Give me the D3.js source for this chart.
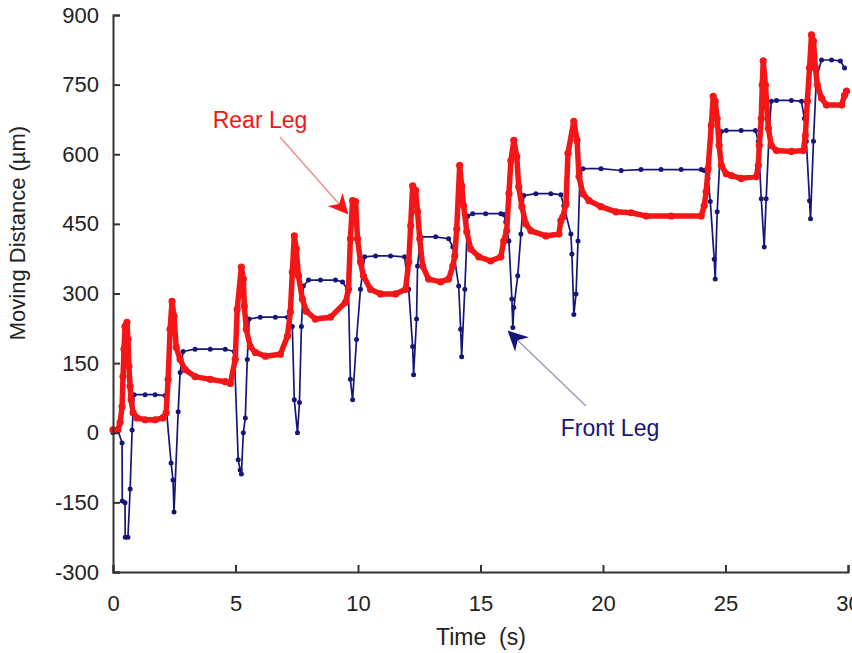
<!DOCTYPE html>
<html>
<head>
<meta charset="utf-8">
<script src="https://cdn.jsdelivr.net/npm/d3@7"></script>
<style>
  body { margin: 0; background: #fff; }
  svg { display: block; }
  text { font-family: "Liberation Sans", Arial, Helvetica, sans-serif; }
</style>
</head>
<body>
<div id="chart"></div>
<script>
// Front leg (blue) readings
const frontTime = [0, 0.2, 0.37, 0.38, 0.49, 0.5, 0.61, 0.7, 0.78, 0.86, 1.31, 1.72, 2.13,
  2.37, 2.45, 2.49, 2.66, 2.74, 2.86, 3.35, 3.97, 4.58, 4.95,
  5.11, 5.19, 5.24, 5.32, 5.4, 5.48, 5.56, 6.01, 6.63, 7.12,
  7.32, 7.4, 7.53, 7.61, 7.69, 7.77, 7.98, 8.47, 9.08, 9.37,
  9.61, 9.69, 9.78, 9.94, 10.1, 10.27, 10.72, 11.33, 11.9,
  12.07, 12.23, 12.27, 12.39, 12.43, 12.56, 13.17, 13.7, 13.87,
  14.11, 14.19, 14.23, 14.36, 14.48, 14.68, 15.21, 15.83, 15.95, 16.03,
  16.16, 16.28, 16.32, 16.36, 16.52, 16.65, 16.77, 17.26, 17.87, 18.28, 18.4,
  18.69, 18.73, 18.81, 18.9, 18.98, 19.06, 19.18, 19.92, 20.74, 21.55, 22.37, 23.19, 24.01, 24.13,
  24.29, 24.38, 24.54, 24.58, 24.66, 24.83, 25.03, 25.64, 26.22,
  26.34, 26.46, 26.58, 26.66, 26.79, 26.87, 27.08, 27.69, 28.1,
  28.22, 28.3, 28.43, 28.47, 28.59, 28.71, 28.92, 29.33, 29.69, 29.86];
const frontDist = [0, 6, -22, -147, -151, -225, -225, -121, 6, 82, 82, 82, 80,
  -65, -102, -171, 45, 130, 175, 180, 180, 180, 175,
  -58, -80, -89, 0, 32, 158, 245, 249, 249, 249,
  229, 71, 0, 65, 229, 316, 329, 329, 329, 325,
  305, 115, 71, 201, 309, 379, 381, 381, 379,
  309, 186, 125, 245, 359, 422, 422, 418, 400,
  316, 223, 164, 309, 467, 472, 472, 472, 470, 454,
  413, 288, 227, 270, 338, 428, 511, 515, 515, 513, 489,
  428, 385, 255, 299, 413, 558, 569, 569, 565, 567, 567, 567, 567, 565,
  548, 498, 374, 331, 476, 649, 651, 651, 651,
  628, 504, 400, 504, 656, 714, 716, 716, 714,
  677, 628, 500, 461, 628, 764, 803, 803, 801, 786];

// Rear leg (red) readings
const rearTime = [0, 0.2, 0.29, 0.37, 0.41, 0.45, 0.49, 0.57, 0.61, 0.65, 0.7, 0.74, 0.82, 0.98,
  1.31, 1.72, 2.04, 2.17, 2.25, 2.33, 2.41, 2.49, 2.58, 2.74, 2.94, 3.35, 3.97, 4.58, 4.79,
  4.99, 5.07, 5.24, 5.32, 5.36, 5.44, 5.6, 5.81, 6.22, 6.83, 7.12,
  7.24, 7.32, 7.4, 7.48, 7.57, 7.73, 7.89, 8.26, 8.88, 9.49,
  9.61, 9.69, 9.78, 9.9, 9.98, 10.1, 10.22, 10.51, 10.92, 11.53, 11.94,
  12.07, 12.15, 12.23, 12.35, 12.43, 12.52, 12.64, 12.88, 13.37, 13.7,
  13.87, 13.95, 14.03, 14.15, 14.23, 14.31, 14.44, 14.6, 14.93, 15.42, 15.83,
  15.95, 16.07, 16.16, 16.24, 16.36, 16.48, 16.56, 16.69, 16.85, 17.06, 17.67, 18.2,
  18.28, 18.36, 18.49, 18.57, 18.81, 18.94, 19.02, 19.18, 19.43, 19.92, 20.53, 21.15, 21.76, 22.78, 24.01,
  24.13, 24.21, 24.29, 24.42, 24.5, 24.58, 24.66, 24.74, 24.83, 25.03, 25.24, 25.64, 26.26,
  26.34, 26.38, 26.46, 26.5, 26.54, 26.63, 26.75, 26.87, 27.08, 27.69, 28.18,
  28.26, 28.34, 28.43, 28.51, 28.59, 28.67, 28.75, 28.92, 29.12, 29.74, 29.86, 29.94];
const rearDist = [6, 6, 22, 56, 121, 180, 229, 238, 201, 143, 100, 71, 43, 32,
  28, 28, 32, 43, 115, 223, 283, 251, 184, 158, 136, 121, 115, 110, 106,
  158, 266, 357, 331, 273, 223, 186, 173, 165, 169, 208,
  260, 346, 424, 396, 338, 288, 262, 245, 249, 281,
  309, 418, 500, 498, 418, 368, 338, 309, 299, 299, 309,
  368, 446, 532, 522, 476, 418, 359, 331, 325, 331,
  359, 381, 439, 576, 532, 489, 433, 396, 379, 370, 379,
  413, 435, 515, 586, 630, 595, 530, 487, 450, 435, 424, 428,
  457, 465, 493, 602, 671, 630, 552, 515, 500, 487, 476, 474, 467, 467, 467,
  489, 519, 569, 662, 725, 714, 677, 619, 576, 558, 554, 548, 552,
  576, 619, 677, 749, 801, 749, 656, 619, 608, 606, 608,
  640, 714, 786, 857, 844, 786, 749, 721, 706, 706, 727, 736];

const xTicks = [0, 5, 10, 15, 20, 25, 30];
const yTicks = [-300, -150, 0, 150, 300, 450, 600, 750, 900];

const width = 852;
const height = 653;
const blue = '#16167a';
const red = '#f41616';

const front = frontTime.map((t, i) => ({ t, v: frontDist[i] }));
const rear = rearTime.map((t, i) => ({ t, v: rearDist[i] }));

const x = d3.scaleLinear().domain([0, 30]).range([113, 848]);
const y = d3.scaleLinear().domain([-300, 900]).range([572, 15]);

const svg = d3.select('#chart')
  .append('svg')
  .attr('width', width)
  .attr('height', height);

const line = d3.line().x((d) => x(d.t)).y((d) => y(d.v));

// series
svg.append('path')
  .datum(front)
  .attr('fill', 'none')
  .attr('stroke', blue)
  .attr('stroke-width', 1.7)
  .attr('stroke-linejoin', 'round')
  .attr('d', line);

svg.append('g')
  .selectAll('circle')
  .data(front)
  .join('circle')
  .attr('cx', (d) => x(d.t))
  .attr('cy', (d) => y(d.v))
  .attr('r', 2.5)
  .attr('fill', blue);

svg.append('path')
  .datum(rear)
  .attr('fill', 'none')
  .attr('stroke', red)
  .attr('stroke-width', 5.5)
  .attr('stroke-linejoin', 'round')
  .attr('d', line);

svg.append('g')
  .selectAll('circle')
  .data(rear)
  .join('circle')
  .attr('cx', (d) => x(d.t))
  .attr('cy', (d) => y(d.v))
  .attr('r', 3.6)
  .attr('fill', red);

// axes (ticks point inward, like the original)
const xAxis = svg.append('g')
  .attr('transform', `translate(0,${y(-300)})`)
  .call(d3.axisBottom(x).tickValues(xTicks).tickSize(-7).tickPadding(17)
    .tickFormat((d) => String(d)));
const yAxis = svg.append('g')
  .attr('transform', `translate(${x(0)},0)`)
  .call(d3.axisLeft(y).tickValues(yTicks).tickSize(-7).tickPadding(14)
    .tickFormat((d) => String(d)));

[xAxis, yAxis].forEach((g) => {
  g.select('.domain').attr('stroke', '#333').attr('stroke-width', 2);
  g.selectAll('.tick line').attr('stroke', '#333').attr('stroke-width', 2);
  g.selectAll('.tick text')
    .attr('fill', '#222')
    .style('font-size', '22px');
});
xAxis.selectAll('.tick text').attr('dy', '1em');

svg.append('text')
  .attr('x', 481)
  .attr('y', 645)
  .attr('text-anchor', 'middle')
  .attr('fill', '#222')
  .style('font-size', '23px')
  .style('white-space', 'pre')
  .text('Time  (s)');

svg.append('text')
  .attr('transform', 'translate(25,233) rotate(-90)')
  .attr('text-anchor', 'middle')
  .attr('fill', '#222')
  .style('font-size', '22px')
  .text('Moving Distance (\u00b5m)');

// annotations
const defs = svg.append('defs');
[['arrowRed', red], ['arrowBlue', blue]].forEach(([id, c]) => {
  defs.append('marker')
    .attr('id', id)
    .attr('viewBox', '0 0 10 10')
    .attr('refX', 9)
    .attr('refY', 5)
    .attr('markerUnits', 'userSpaceOnUse')
    .attr('orient', 'auto')
    .attr('markerWidth', 24)
    .attr('markerHeight', 20)
    .append('path')
    .attr('d', 'M0,0 L10,5 L0,10 L3,5 Z')
    .attr('fill', c);
});

svg.append('line')
  .attr('x1', 280).attr('y1', 137)
  .attr('x2', 347).attr('y2', 213)
  .attr('stroke', '#f08a8a')
  .attr('stroke-width', 1.4)
  .attr('marker-end', 'url(#arrowRed)');

svg.append('text')
  .attr('x', 260)
  .attr('y', 128)
  .attr('text-anchor', 'middle')
  .attr('fill', red)
  .style('font-size', '23px')
  .text('Rear Leg');

svg.append('line')
  .attr('x1', 586).attr('y1', 406)
  .attr('x2', 509).attr('y2', 332)
  .attr('stroke', '#9a9ab8')
  .attr('stroke-width', 1.4)
  .attr('marker-end', 'url(#arrowBlue)');

svg.append('text')
  .attr('x', 610)
  .attr('y', 436)
  .attr('text-anchor', 'middle')
  .attr('fill', blue)
  .style('font-size', '23px')
  .text('Front Leg');
</script>
</body>
</html>
